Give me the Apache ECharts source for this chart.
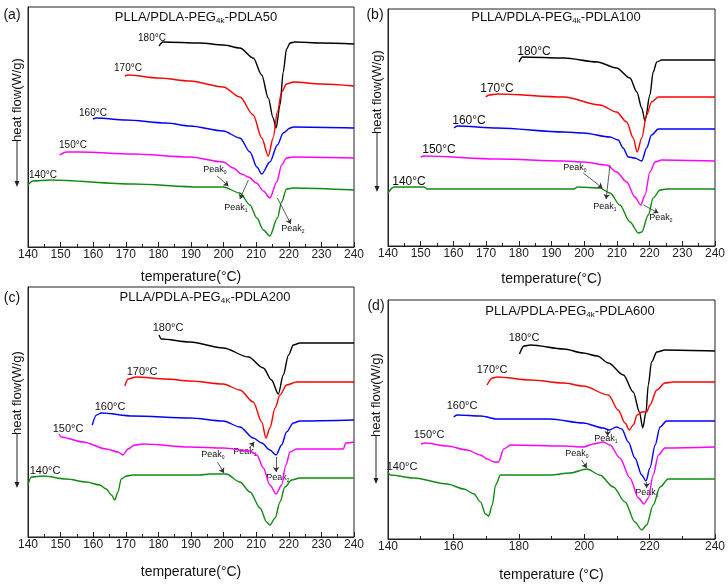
<!DOCTYPE html>
<html>
<head>
<meta charset="utf-8">
<script src="https://cdn.jsdelivr.net/npm/echarts@6/dist/echarts.min.js"></script>
<style>
  html, body { margin: 0; padding: 0; background: #fff; }
  #chart { width: 728px; height: 584px; }
</style>
</head>
<body>
<div id="chart"></div>
<script>
// isothermal temperatures, one curve each, top to bottom
const isoLabels = ['180°C', '170°C', '160°C', '150°C', '140°C']
const colors = ['#000000', '#ff0000', '#0000ff', '#ff00ff', '#128a12']

// heat flow curves, [temperature, heat flow (arb.)]
// (a) PDLA50
const a180 = [[180.2,201],[181.4,205],[192.7,204],[200,202],[205,199],[209.1,189],[211.7,172],[213.7,149],[215.2,129],[216.1,119],[217.3,142],[218.3,175],[219.3,198],[220.4,204],[221.8,205],[230,204],[240,203]]
const a170 = [[169.7,171],[170.7,172],[180,169],[189.7,166],[199.9,160],[205,150],[209.1,132],[211.7,109],[213.7,91],[215.2,109],[216.5,135],[217.8,155],[219.3,163],[221.4,165],[230,163],[240,161]]
const a160 = [[159.9,128],[161,129],[170,127],[182.4,124],[189.7,121],[199.9,116],[205,109],[208.1,95],[210.2,80],[211.7,73],[214.2,85],[216.5,102],[218.3,114],[220.4,119],[221.4,120],[240,119]]
const a150 = [[149.7,92],[151.8,95],[155.8,95],[172,93],[189.7,90],[199.9,85],[203,79],[205.5,73],[207.6,70],[210.1,64],[212.2,56],[214.2,49],[216.3,65],[217.8,82],[219.3,89],[221.4,90],[240,89]]
const a140 = [[140,62],[141.5,66],[146.6,67],[172.2,63],[192.7,60],[199.9,60],[205,54],[208.1,42],[210.2,29],[212.2,17],[214.2,11],[216.5,29],[217.8,45],[219.3,58],[221.4,59],[240,57]]

// (b) PDLA100
const b180 = [[180.1,184],[181.1,189],[193.8,188],[204,184],[209.9,178],[214,168],[216.1,154],[217.6,138],[218.6,125],[220.1,151],[221.1,174],[222.2,184],[223.7,186],[240,186]]
const b170 = [[169.9,149],[170.9,151],[173.4,152],[193.8,149],[204.8,141],[209.9,134],[213,124],[215,108],[216.2,94],[217.6,108],[219.1,131],[220.6,144],[222.7,149],[240,149]]
const b160 = [[160.2,118],[161.2,120],[173.4,118],[193.8,114],[199.7,113],[207.9,109],[210.4,106],[211.9,98],[213.5,89],[215.5,88],[217.6,85],[219.1,98],[220.6,111],[222.7,117],[240,117]]
const b150 = [[150,89],[151,90],[173.4,87],[193.8,85],[199.7,84],[206.9,81],[209.9,74],[213,64],[215.5,49],[217.3,41],[218.6,51],[220.1,74],[221.7,84],[223.7,86],[240,85]]
const b140 = [[140,53],[141.8,59],[151,59],[152,57],[196.9,57],[197.9,59],[204.8,58],[207.9,53],[210.9,41],[214,24],[216.6,13],[217.6,14],[219.6,31],[221.1,48],[223.2,56],[225.2,57],[240,57]]

// (c) PDLA200
const c180 = [[180.2,202],[180.9,198],[189.7,195],[199.9,189],[207.6,180],[212.2,169],[214.7,157],[216.8,143],[218.3,162],[219.9,182],[221.4,192],[223.4,194],[240,194]]
const c170 = [[169.7,151],[170.7,158],[173.2,160],[182.4,158],[189.7,156],[199.9,153],[205,147],[209.1,135],[211.7,115],[213,99],[214.2,109],[215.8,129],[217.3,142],[219.3,152],[222.4,155],[240,155]]
const c160 = [[159.7,112],[161,122],[162.5,124],[172.2,121],[189.7,119],[199.9,116],[205,110],[209.1,99],[211.7,94],[214.2,87],[216.1,82],[217.8,92],[219.3,105],[221.4,114],[223.4,116],[240,117]]
const c150 = [[149.5,103],[150.2,100],[156.9,95],[164,88],[167.6,85],[169.1,82],[170.7,88],[172.7,92],[175.3,93],[189.7,90],[199.9,89],[208.1,86],[210.2,82],[212.2,69],[214.2,52],[216.1,43],[217.8,52],[219.1,72],[220.4,85],[222.4,88],[236.7,88],[237.5,94],[240,95]]
const c140 = [[140,52],[141,60],[144.6,61],[151.8,58],[157.9,55],[162,52],[164,48],[165.6,42],[166.6,37],[167.6,45],[168.6,58],[170.2,61],[172.2,62],[192.7,62],[195.7,63],[200.8,63],[205,55],[208.1,45],[211.2,29],[213.2,15],[214.2,12],[215.8,19],[217.3,35],[218.8,50],[220.9,57],[223.4,59],[240,59]]

// (d) PDLA600
const d180 = [[180.2,185],[181.6,193],[183.6,194],[193.8,190],[199.7,186],[204,183],[207.4,176],[212,164],[215,147],[216.9,127],[217.9,111],[218.9,127],[219.6,154],[220.6,177],[222.2,187],[224.7,189],[240,188]]
const d170 = [[170.3,154],[171.9,161],[173.4,162],[183.6,159],[193.8,156],[199.7,153],[207.4,144],[210.4,129],[212.5,116],[213.8,109],[215,114],[216.2,124],[217.6,127],[219.1,127],[220.1,134],[222.2,149],[224.7,156],[227.3,157],[240,157]]
const d160 = [[160.1,122],[161.1,124],[168.3,123],[173.4,120],[189.5,120],[199.7,116],[205.8,111],[207.6,109],[209.9,112],[211.5,110],[213.5,97],[215.5,81],[217.6,64],[218.9,58],[220.1,71],[221.7,94],[223.2,112],[225.2,118],[240,118]]
const d150 = [[150.1,95],[151.4,96],[158.1,93],[164.2,89],[168.3,84],[170.3,80],[172.5,77],[173.8,77],[175.4,90],[177.5,94],[193.8,93],[199.7,92],[202.8,95],[205.8,97],[207.9,94],[210.9,81],[214,61],[216.6,41],[218.3,35],[219.6,41],[221.1,64],[222.7,84],[224.7,91],[240,92]]
const d140 = [[140,67],[140.7,64],[147.9,61],[158.1,55],[163.2,50],[166.3,45],[168.3,37],[169.8,25],[170.8,23],[171.9,34],[172.9,54],[174.4,64],[176.5,64],[189.5,64],[195.7,66],[200.8,70],[204.8,64],[208.9,52],[212.5,37],[215.5,17],[217.6,9],[219.1,14],[221.1,34],[223.2,52],[225.7,60],[240,60]]

// peak arrows (Peak0, Peak1, Peak2), from -> to in data coords
const arrowsA = [[[198, 71], [201.5, 61]], [[207.6, 67], [205, 48]], [[216.5, 49], [220.6, 23]]]
const arrowsB = [[[199.7, 73], [205.6, 58]], [[207.9, 81], [206.7, 47]], [[218.1, 41], [222.7, 33]]]
const arrowsC = [[[198.1, 75], [200.1, 64]], [[207.9, 89], [209.4, 95]], [[216.1, 80], [216.1, 65]]]
const arrowsD = [[[199.2, 79], [200.8, 71]], [[207.2, 109], [207.2, 103]], [[219.1, 57], [219.1, 51]]]

const FONT = '"Liberation Sans", Arial, sans-serif'

const panels = [
  { letter: '(a)', title: 'PLLA/PDLA-PEG{s|4k}-PDLA50', curves: [a180, a170, a160, a150, a140], arrows: arrowsA,
    grid: { left: 28, top: 7, width: 326, height: 240 }, interval: 10, xName: 'temperature(°C)', nameGap: 23,
    letterPos: [12, 15], titlePos: [196, 17], yNamePos: [17, 100], yArrow: [141, 187], isoSize: 10,
    isoPos: [[152, 38], [128, 68], [93, 113], [73, 145], [43, 175]],
    peakPos: [[215, 170], [236, 208], [293, 229]] },
  { letter: '(b)', title: 'PLLA/PDLA-PEG{s|4k}-PDLA100', curves: [b180, b170, b160, b150, b140], arrows: arrowsB,
    grid: { left: 388, top: 9, width: 327, height: 237 }, interval: 10, xName: 'temperature(°C)', nameGap: 26,
    letterPos: [375, 15], titlePos: [556, 17], yNamePos: [377, 92], yArrow: [133, 192], isoSize: 12,
    isoPos: [[534, 52], [497, 89], [469, 121], [439, 150], [409, 182]],
    peakPos: [[575, 168], [605, 207], [661, 218]] },
  { letter: '(c)', title: 'PLLA/PDLA-PEG{s|4K}-PDLA200', curves: [c180, c170, c160, c150, c140], arrows: arrowsC,
    grid: { left: 28, top: 287, width: 326, height: 250 }, interval: 10, xName: 'temperature(°C)', nameGap: 28,
    letterPos: [12, 298], titlePos: [205, 297], yNamePos: [17, 393], yArrow: [434, 488], isoSize: 11,
    isoPos: [[168, 328], [142, 372], [110, 407], [68, 429], [45, 471]],
    peakPos: [[213, 455], [245, 452], [278, 478]] },
  { letter: '(d)', title: 'PLLA/PDLA-PEG{s|4k}-PDLA600', curves: [d180, d170, d160, d150, d140], arrows: arrowsD,
    grid: { left: 388, top: 300, width: 327, height: 239 }, interval: 20, xName: 'temperature (°C)', nameGap: 29,
    letterPos: [376, 306], titlePos: [570, 311], yNamePos: [376, 395], yArrow: [436, 484], isoSize: 11,
    isoPos: [[524, 338], [492, 370], [462, 406], [429, 435], [402, 467]],
    peakPos: [[577, 454], [606, 439], [647, 493]] }
]

const grid = []
const xAxis = []
const yAxis = []
const series = []
const graphic = []

function text(x, y, str, size, extra) {
  return Object.assign({
    type: 'text', x, y, silent: true,
    style: {
      text: str, fill: '#111', fontSize: size, fontFamily: FONT,
      align: 'center', verticalAlign: 'middle',
      rich: { s: { fontSize: Math.round(size * 0.6), fontFamily: FONT, padding: [Math.round(size * 0.5), 0, 0, 0] } }
    }
  }, extra || {})
}

panels.forEach((p, i) => {
  grid.push({ ...p.grid, show: true, borderColor: '#222', borderWidth: 1, backgroundColor: 'transparent' })
  xAxis.push({
    gridIndex: i, type: 'value', min: 140, max: 240, interval: p.interval,
    name: p.xName, nameLocation: 'middle', nameGap: p.nameGap,
    nameTextStyle: { fontSize: 14, color: '#111', fontFamily: FONT },
    axisLine: { lineStyle: { color: '#222', width: 1 } },
    axisTick: { inside: true, length: 5, lineStyle: { color: '#222' } },
    minorTick: { show: true, splitNumber: 2, length: 3, lineStyle: { color: '#222' } },
    axisLabel: { fontSize: 12, color: '#222', margin: 2, fontFamily: FONT },
    splitLine: { show: false }
  })
  yAxis.push({
    gridIndex: i, type: 'value', min: 0, max: p.grid.height,
    axisLine: { show: true, lineStyle: { color: '#222', width: 1 } },
    axisTick: { show: false }, axisLabel: { show: false }, splitLine: { show: false }
  })
  p.curves.forEach((d, k) => {
    const s = {
      name: isoLabels[k], type: 'line', xAxisIndex: i, yAxisIndex: i, data: d,
      showSymbol: false, smooth: 0.3, smoothMonotone: 'x', animation: false,
      lineStyle: { color: colors[k], width: 1.4 }, itemStyle: { color: colors[k] }
    }
    if (k === 4) {
      s.markLine = {
        silent: true, animation: false, symbol: ['none', 'arrow'], symbolSize: 5,
        label: { show: false }, lineStyle: { color: '#333', width: 0.8, type: 'solid' },
        data: p.arrows.map(a => [{ coord: a[0] }, { coord: a[1] }])
      }
    }
    series.push(s)
  })

  graphic.push(text(p.letterPos[0], p.letterPos[1], p.letter, 14))
  graphic.push(text(p.titlePos[0], p.titlePos[1], p.title, 13))
  p.isoPos.forEach((pos, k) => graphic.push(text(pos[0], pos[1], isoLabels[k], p.isoSize)))
  p.peakPos.forEach((pos, k) => graphic.push(text(pos[0], pos[1], 'Peak{s|' + k + '}', 9)))
  // y axis title with the down arrow
  graphic.push(text(p.yNamePos[0], p.yNamePos[1], 'heat flow(W/g)', 13, { rotation: Math.PI / 2 }))
  const ax = p.yNamePos[0]
  graphic.push({ type: 'line', silent: true, shape: { x1: ax, y1: p.yArrow[0], x2: ax, y2: p.yArrow[1] - 4 }, style: { stroke: '#222', lineWidth: 1 } })
  graphic.push({ type: 'polygon', silent: true, shape: { points: [[ax - 2.5, p.yArrow[1] - 6], [ax + 2.5, p.yArrow[1] - 6], [ax, p.yArrow[1]]] }, style: { fill: '#222' } })
})

const chart = echarts.init(document.getElementById('chart'))
chart.setOption({
  animation: false,
  backgroundColor: '#fff',
  grid, xAxis, yAxis, series, graphic
})
</script>
</body>
</html>
